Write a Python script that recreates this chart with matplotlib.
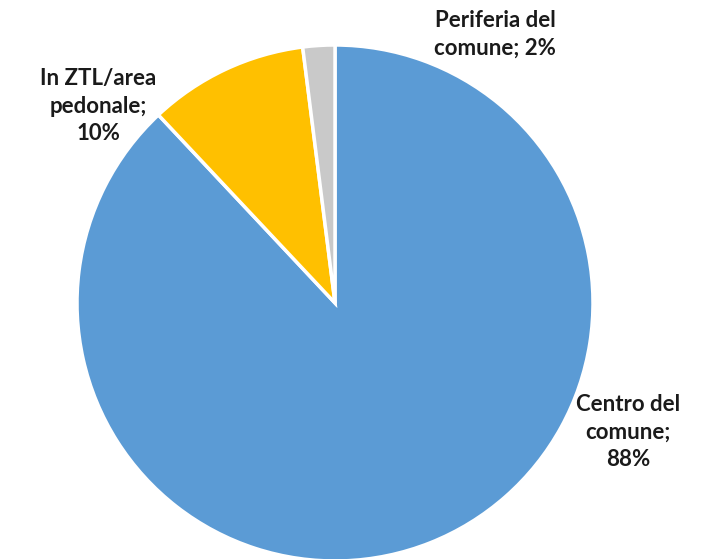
import matplotlib.pyplot as plt

labels = ['Centro del\ncomune;\n88%', 'In ZTL/area\npedonale;\n10%', 'Periferia del\ncomune; 2%']
shares = [88, 10, 2]
colors = ['#5B9BD5', '#FFC000', '#C9C9C9']

# pixel layout of the reference
W, H = 728, 559
cx, cy, r = 335, 303, 258


def px(x, y):
    # pixel -> data coords (pie centred at 0,0 with radius 1)
    return (x - cx) / r, (cy - y) / r


plt.rcParams['font.family'] = ['Lato', 'DejaVu Sans']

fig = plt.figure(figsize=(W / 100, H / 100), dpi=100)
ax = fig.add_axes([0, 0, 1, 1])
ax.pie(shares, colors=colors, startangle=90, counterclock=False, radius=1,
       wedgeprops=dict(edgecolor='white', linewidth=2.5))
ax.set_xlim(-cx / r, (W - cx) / r)
ax.set_ylim(-(H - cy) / r, cy / r)
ax.set_aspect('equal')
ax.axis('off')

label_pos = [(628, 432), (98, 106), (495, 34)]
for lab, (x, y) in zip(labels, label_pos):
    tx, ty = px(x, y)
    ax.text(tx, ty, lab, ha='center', va='center', fontsize=16,
            fontweight='bold', color='#1a1a1a', linespacing=1.4)

fig.savefig('out.png', dpi=100)
